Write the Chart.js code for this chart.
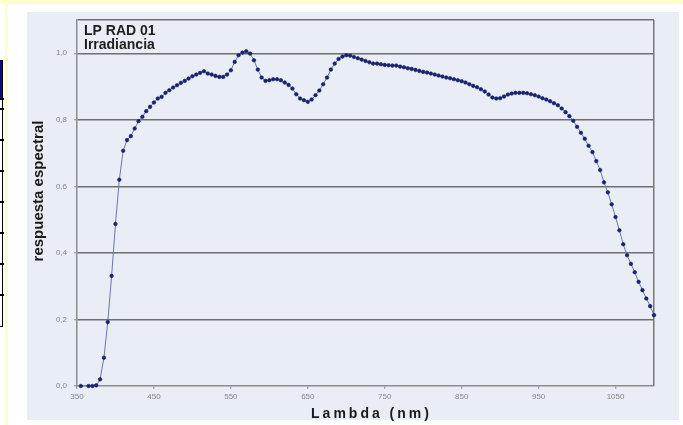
<!DOCTYPE html>
<html lang="es">
<head>
<meta charset="utf-8">
<title>LP RAD 01 – Irradiancia</title>
<script src="https://cdn.jsdelivr.net/npm/chart.js@4/dist/chart.umd.min.js"></script>
<style>
  html, body { margin: 0; padding: 0; background: #ffffff; width: 683px; height: 425px; overflow: hidden; }
  .band-top { position: absolute; left: 0; top: 0; width: 683px; height: 4px; background: #FFFFCC; }
  .band-left { position: absolute; left: 5px; top: 0; width: 3px; height: 425px; background: #FFFFCC; }
  .panel { position: absolute; left: 27px; top: 12px; width: 652px; height: 408px; background: #E9EDF6; }
  .tab { position: absolute; left: -2px; top: 60px; width: 3px; height: 265px; border: 1.5px solid #000; background: #fff; }
  .tab-head { position: absolute; left: 0; top: 61px; width: 2px; height: 37px; background: #0a0a8c; }
  .tab-row { position: absolute; left: 0; width: 4px; height: 1.5px; background: #000; }
  #chart { position: absolute; left: 0; top: 0; }
</style>
</head>
<body>
<div class="band-top"></div>
<div class="band-left"></div>
<div class="panel"></div>
<div class="tab"></div>
<div class="tab-head"></div>
<div class="tab-row" style="top:98px"></div>
<div class="tab-row" style="top:108px"></div>
<div class="tab-row" style="top:139px"></div>
<div class="tab-row" style="top:170px"></div>
<div class="tab-row" style="top:201px"></div>
<div class="tab-row" style="top:232px"></div>
<div class="tab-row" style="top:263px"></div>
<div class="tab-row" style="top:294px"></div>
<canvas id="chart" width="683" height="425"></canvas>
<script>
// Spectral response of the LP RAD 01 irradiance sensor, one sample every 5 nm
const wavelengths = [
  355, 365, 370, 375, 380, 385, 390, 395, 400, 405, 410, 415, 420, 425, 430, 435, 440, 445, 450, 455,
  460, 465, 470, 475, 480, 485, 490, 495, 500, 505, 510, 515, 520, 525, 530, 535, 540, 545, 550, 555,
  560, 565, 570, 575, 580, 585, 590, 595, 600, 605, 610, 615, 620, 625, 630, 635, 640, 645, 650, 655,
  660, 665, 670, 675, 680, 685, 690, 695, 700, 705, 710, 715, 720, 725, 730, 735, 740, 745, 750, 755,
  760, 765, 770, 775, 780, 785, 790, 795, 800, 805, 810, 815, 820, 825, 830, 835, 840, 845, 850, 855,
  860, 865, 870, 875, 880, 885, 890, 895, 900, 905, 910, 915, 920, 925, 930, 935, 940, 945, 950, 955,
  960, 965, 970, 975, 980, 985, 990, 995, 1000, 1005, 1010, 1015, 1020, 1025, 1030, 1035, 1040, 1045, 1050, 1055,
  1060, 1065, 1070, 1075, 1080, 1085, 1090, 1095, 1100
];
const respuesta = [
  0.000, 0.000, 0.000, 0.002, 0.020, 0.085, 0.192, 0.331, 0.487, 0.620, 0.707, 0.739, 0.751, 0.774, 0.796, 0.809, 0.826, 0.839, 0.852, 0.864,
  0.869, 0.881, 0.889, 0.897, 0.904, 0.911, 0.917, 0.924, 0.931, 0.936, 0.941, 0.946, 0.939, 0.936, 0.932, 0.929, 0.929, 0.936, 0.949, 0.974,
  0.994, 1.002, 1.006, 0.999, 0.979, 0.951, 0.927, 0.917, 0.919, 0.922, 0.922, 0.919, 0.912, 0.905, 0.894, 0.877, 0.864, 0.859, 0.854, 0.861,
  0.874, 0.888, 0.907, 0.927, 0.951, 0.969, 0.983, 0.990, 0.994, 0.993, 0.989, 0.985, 0.981, 0.977, 0.973, 0.969, 0.969, 0.967, 0.965, 0.964,
  0.963, 0.963, 0.960, 0.958, 0.955, 0.953, 0.950, 0.947, 0.944, 0.942, 0.939, 0.936, 0.933, 0.930, 0.927, 0.925, 0.922, 0.919, 0.916, 0.912,
  0.907, 0.902, 0.898, 0.892, 0.885, 0.876, 0.867, 0.864, 0.865, 0.870, 0.876, 0.879, 0.881, 0.881, 0.881, 0.880, 0.877, 0.874, 0.870, 0.865,
  0.861, 0.856, 0.850, 0.844, 0.834, 0.823, 0.811, 0.797, 0.779, 0.761, 0.743, 0.722, 0.703, 0.676, 0.649, 0.612, 0.582, 0.546, 0.508, 0.468,
  0.426, 0.393, 0.367, 0.342, 0.313, 0.288, 0.263, 0.240, 0.213
];
const xTickValues = [350, 450, 550, 650, 750, 850, 950, 1050];
const yTickValues = [0, 0.2, 0.4, 0.6, 0.8, 1.0];
const xRange = [350, 1100];
const yRange = [0, 1.1];
const titleLines = ['LP RAD 01', 'Irradiancia'];
const xTitle = 'Lambda (nm)';
const yTitle = 'respuesta espectral';

const FONT = '"Liberation Sans", Arial, Helvetica, sans-serif';
const CLEAR = 'rgba(0,0,0,0)';

// Two-line heading printed inside the plot frame, top left
const cornerTitle = {
  id: 'cornerTitle',
  afterDraw(chart) {
    const { ctx, chartArea: a } = chart;
    ctx.save();
    ctx.font = 'bold 14px ' + FONT;
    ctx.fillStyle = '#1e1e1e';
    ctx.textAlign = 'left';
    ctx.textBaseline = 'alphabetic';
    titleLines.forEach((t, i) => ctx.fillText(t, a.left + 7, a.top + 15 + i * 14.3));
    ctx.restore();
  }
};

// Letter-spaced x title; y title sits a little above the frame's middle
const axisTitleTweaks = {
  id: 'axisTitleTweaks',
  afterLayout(chart) {
    const sx = chart.scales.x, sy = chart.scales.y;
    if (!sx.$tweaked) {
      const drawX = sx.drawTitle.bind(sx);
      sx.drawTitle = function () {
        const c = this.ctx;
        c.save();
        c.letterSpacing = '3px';
        c.translate(6, 0);
        drawX();
        c.restore();
      };
      sx.$tweaked = true;
    }
    if (!sy.$tweaked) {
      const drawY = sy.drawTitle.bind(sy);
      sy.drawTitle = function () {
        const c = this.ctx;
        c.save();
        c.translate(0, -12);
        drawY();
        c.restore();
      };
      sy.$tweaked = true;
    }
  }
};

const points = wavelengths.map((w, i) => ({ x: w, y: respuesta[i] }));

new Chart(document.getElementById('chart'), {
  type: 'line',
  data: {
    datasets: [{
      data: points,
      borderColor: '#6c78a6',
      borderWidth: 1,
      tension: 0,
      pointRadius: 1.8,
      pointBackgroundColor: '#17226b',
      pointBorderColor: '#17226b',
      pointBorderWidth: 0.6,
      clip: 4
    }]
  },
  options: {
    responsive: false,
    devicePixelRatio: 1,
    animation: false,
    events: [],
    layout: { padding: { left: 0, top: 20, right: 29, bottom: 0 } },
    plugins: { legend: { display: false }, tooltip: { enabled: false }, title: { display: false } },
    scales: {
      x: {
        type: 'linear',
        min: xRange[0],
        max: xRange[1],
        afterBuildTicks: s => { s.ticks = [...xTickValues, xRange[1]].map(v => ({ value: v })); },
        afterFit: s => { s.height = 39; },
        ticks: {
          autoSkip: false,
          maxRotation: 0,
          padding: 3,
          color: '#858585',
          font: { size: 8, family: FONT },
          callback: v => (xTickValues.includes(v) ? String(v) : '')
        },
        grid: {
          color: c => (c.tick && c.tick.value === xRange[1] ? '#777777' : CLEAR),
          lineWidth: 1.5,
          tickLength: 3,
          tickWidth: 1,
          tickColor: c => (c.tick && c.tick.value === xRange[1] ? CLEAR : '#8a8a8a')
        },
        border: { display: true, color: '#8c8c8c', width: 1.5 },
        title: {
          display: true,
          text: xTitle,
          color: '#1a1a1a',
          font: { size: 14, weight: 'bold', family: FONT },
          padding: { top: 0, bottom: 2 }
        }
      },
      y: {
        type: 'linear',
        min: yRange[0],
        max: yRange[1],
        afterBuildTicks: s => { s.ticks = [...yTickValues, yRange[1]].map(v => ({ value: v })); },
        afterFit: s => { s.width = 77; },
        ticks: {
          autoSkip: false,
          padding: 7,
          color: '#858585',
          font: { size: 8, family: FONT },
          callback: v => (yTickValues.some(t => Math.abs(t - v) < 1e-9) ? v.toFixed(1).replace('.', ',') : '')
        },
        grid: {
          color: c => (c.tick && c.tick.value === 0 ? CLEAR : '#6f6f6f'),
          lineWidth: 1.5,
          tickLength: 3,
          tickWidth: 1,
          tickColor: c => (c.tick && c.tick.value > 1.05 ? CLEAR : '#8a8a8a')
        },
        border: { display: true, color: '#8c8c8c', width: 1.5 },
        title: {
          display: true,
          text: yTitle,
          color: '#1a1a1a',
          font: { size: 15, weight: 'bold', family: FONT },
          padding: { top: 30, bottom: 0 }
        }
      }
    }
  },
  plugins: [cornerTitle, axisTitleTweaks]
});
</script>
</body>
</html>
